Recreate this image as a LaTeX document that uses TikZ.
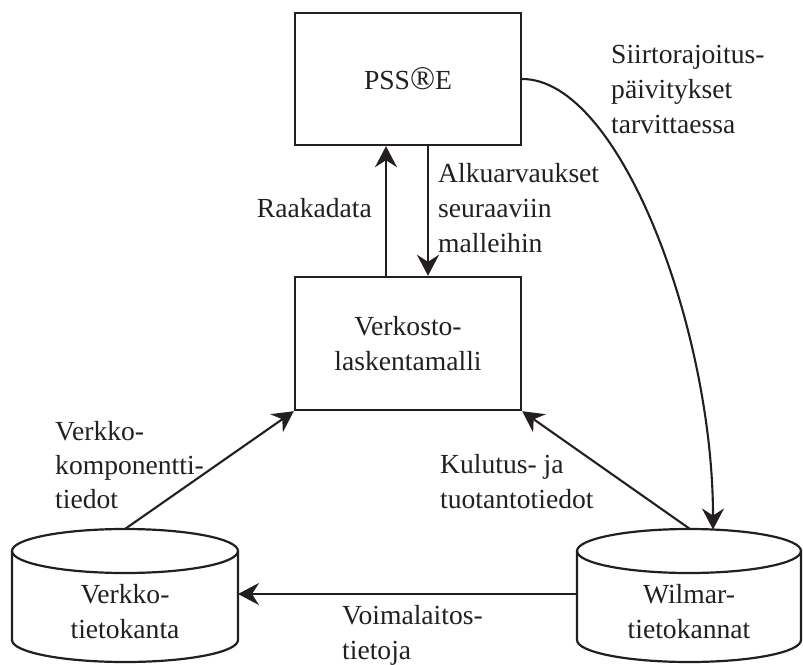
\documentclass[tikz,border=0pt]{standalone}
\usepackage{fontspec}
\setmainfont{Liberation Serif}
\usetikzlibrary{arrows.meta,calc}
\definecolor{ink}{HTML}{231F20}
\begin{document}
\begin{tikzpicture}[x=1pt,y=-1pt,
  every node/.style={font=\fontsize{27.6}{35}\selectfont, text=ink},
  box/.style={draw=ink, line width=2.4pt, minimum width=226pt, inner sep=0pt},
  lbl/.style={inner sep=0pt, align=left},
  ctext/.style={inner sep=0pt, align=center},
  conn/.style={draw=ink, line width=2.1pt},
  arr/.style={conn, -{Stealth[length=21pt, width=22pt, inset=7pt]}},
  cyl/.style={draw=ink, line width=2.2pt}
]
\useasboundingbox (0,0) rectangle (803,664);

% boxes
\node[box, minimum height=132pt] (pss) at (408,79) {PSS{\fontsize{33}{35}\selectfont ®}E};
\node[box, minimum height=133pt, align=center] (vlm) at (408,343.5) {Verkosto-\\laskentamalli};

% cylinders
\draw[cyl] (12,551) -- (12,640) arc[start angle=180, end angle=360, x radius=113pt, y radius=22pt] -- (238,551);
\draw[cyl] (125,551) ellipse [x radius=113pt, y radius=22pt];
\draw[cyl] (577,551) -- (577,640) arc[start angle=180, end angle=360, x radius=112pt, y radius=22pt] -- (801,551);
\draw[cyl] (689,551) ellipse [x radius=112pt, y radius=22pt];

\node[ctext] (vt) at (125,612) {Verkko-\\tietokanta};
\node[ctext] (wt) at (689,612) {Wilmar-\\tietokannat};

\coordinate (vtTop) at (125,529);
\coordinate (vtRight) at (238,594);
\coordinate (wtTop) at (690,529);
\coordinate (wtLeft) at (577,594);
\coordinate (wtArrow) at (713,529.5);

% connectors
\draw[arr] ([xshift=-22pt]vlm.north) -- ([xshift=-22pt]pss.south);
\draw[arr] ([xshift=20pt]pss.south) -- ([xshift=20pt]vlm.north);
\draw[arr] (vtTop) -- (vlm.south west);
\draw[arr] (wtTop) -- (vlm.south east);
\draw[arr] (wtLeft) -- (vtRight);
\draw[arr] (pss.east) .. controls (620,79) and (713,330) .. (wtArrow);

% labels
\node[lbl, anchor=east] (l1) at (372,208) {Raakadata};
\node[lbl, anchor=west] (l2) at (438,208) {Alkuarvaukset\\seuraaviin\\malleihin};
\node[lbl, anchor=west] (l3) at (611,89) {Siirtorajoitus-\\päivitykset\\tarvittaessa};
\node[lbl, anchor=west, font=\fontsize{27.6}{34}\selectfont] (l4) at (55,465) {Verkko-\\komponentti-\\tiedot};
\node[lbl, anchor=west] (l5) at (440,482) {Kulutus- ja\\tuotantotiedot};
\node[lbl, anchor=west] (l6) at (342,635) {Voimalaitos-\\tietoja};
\end{tikzpicture}
\end{document}
